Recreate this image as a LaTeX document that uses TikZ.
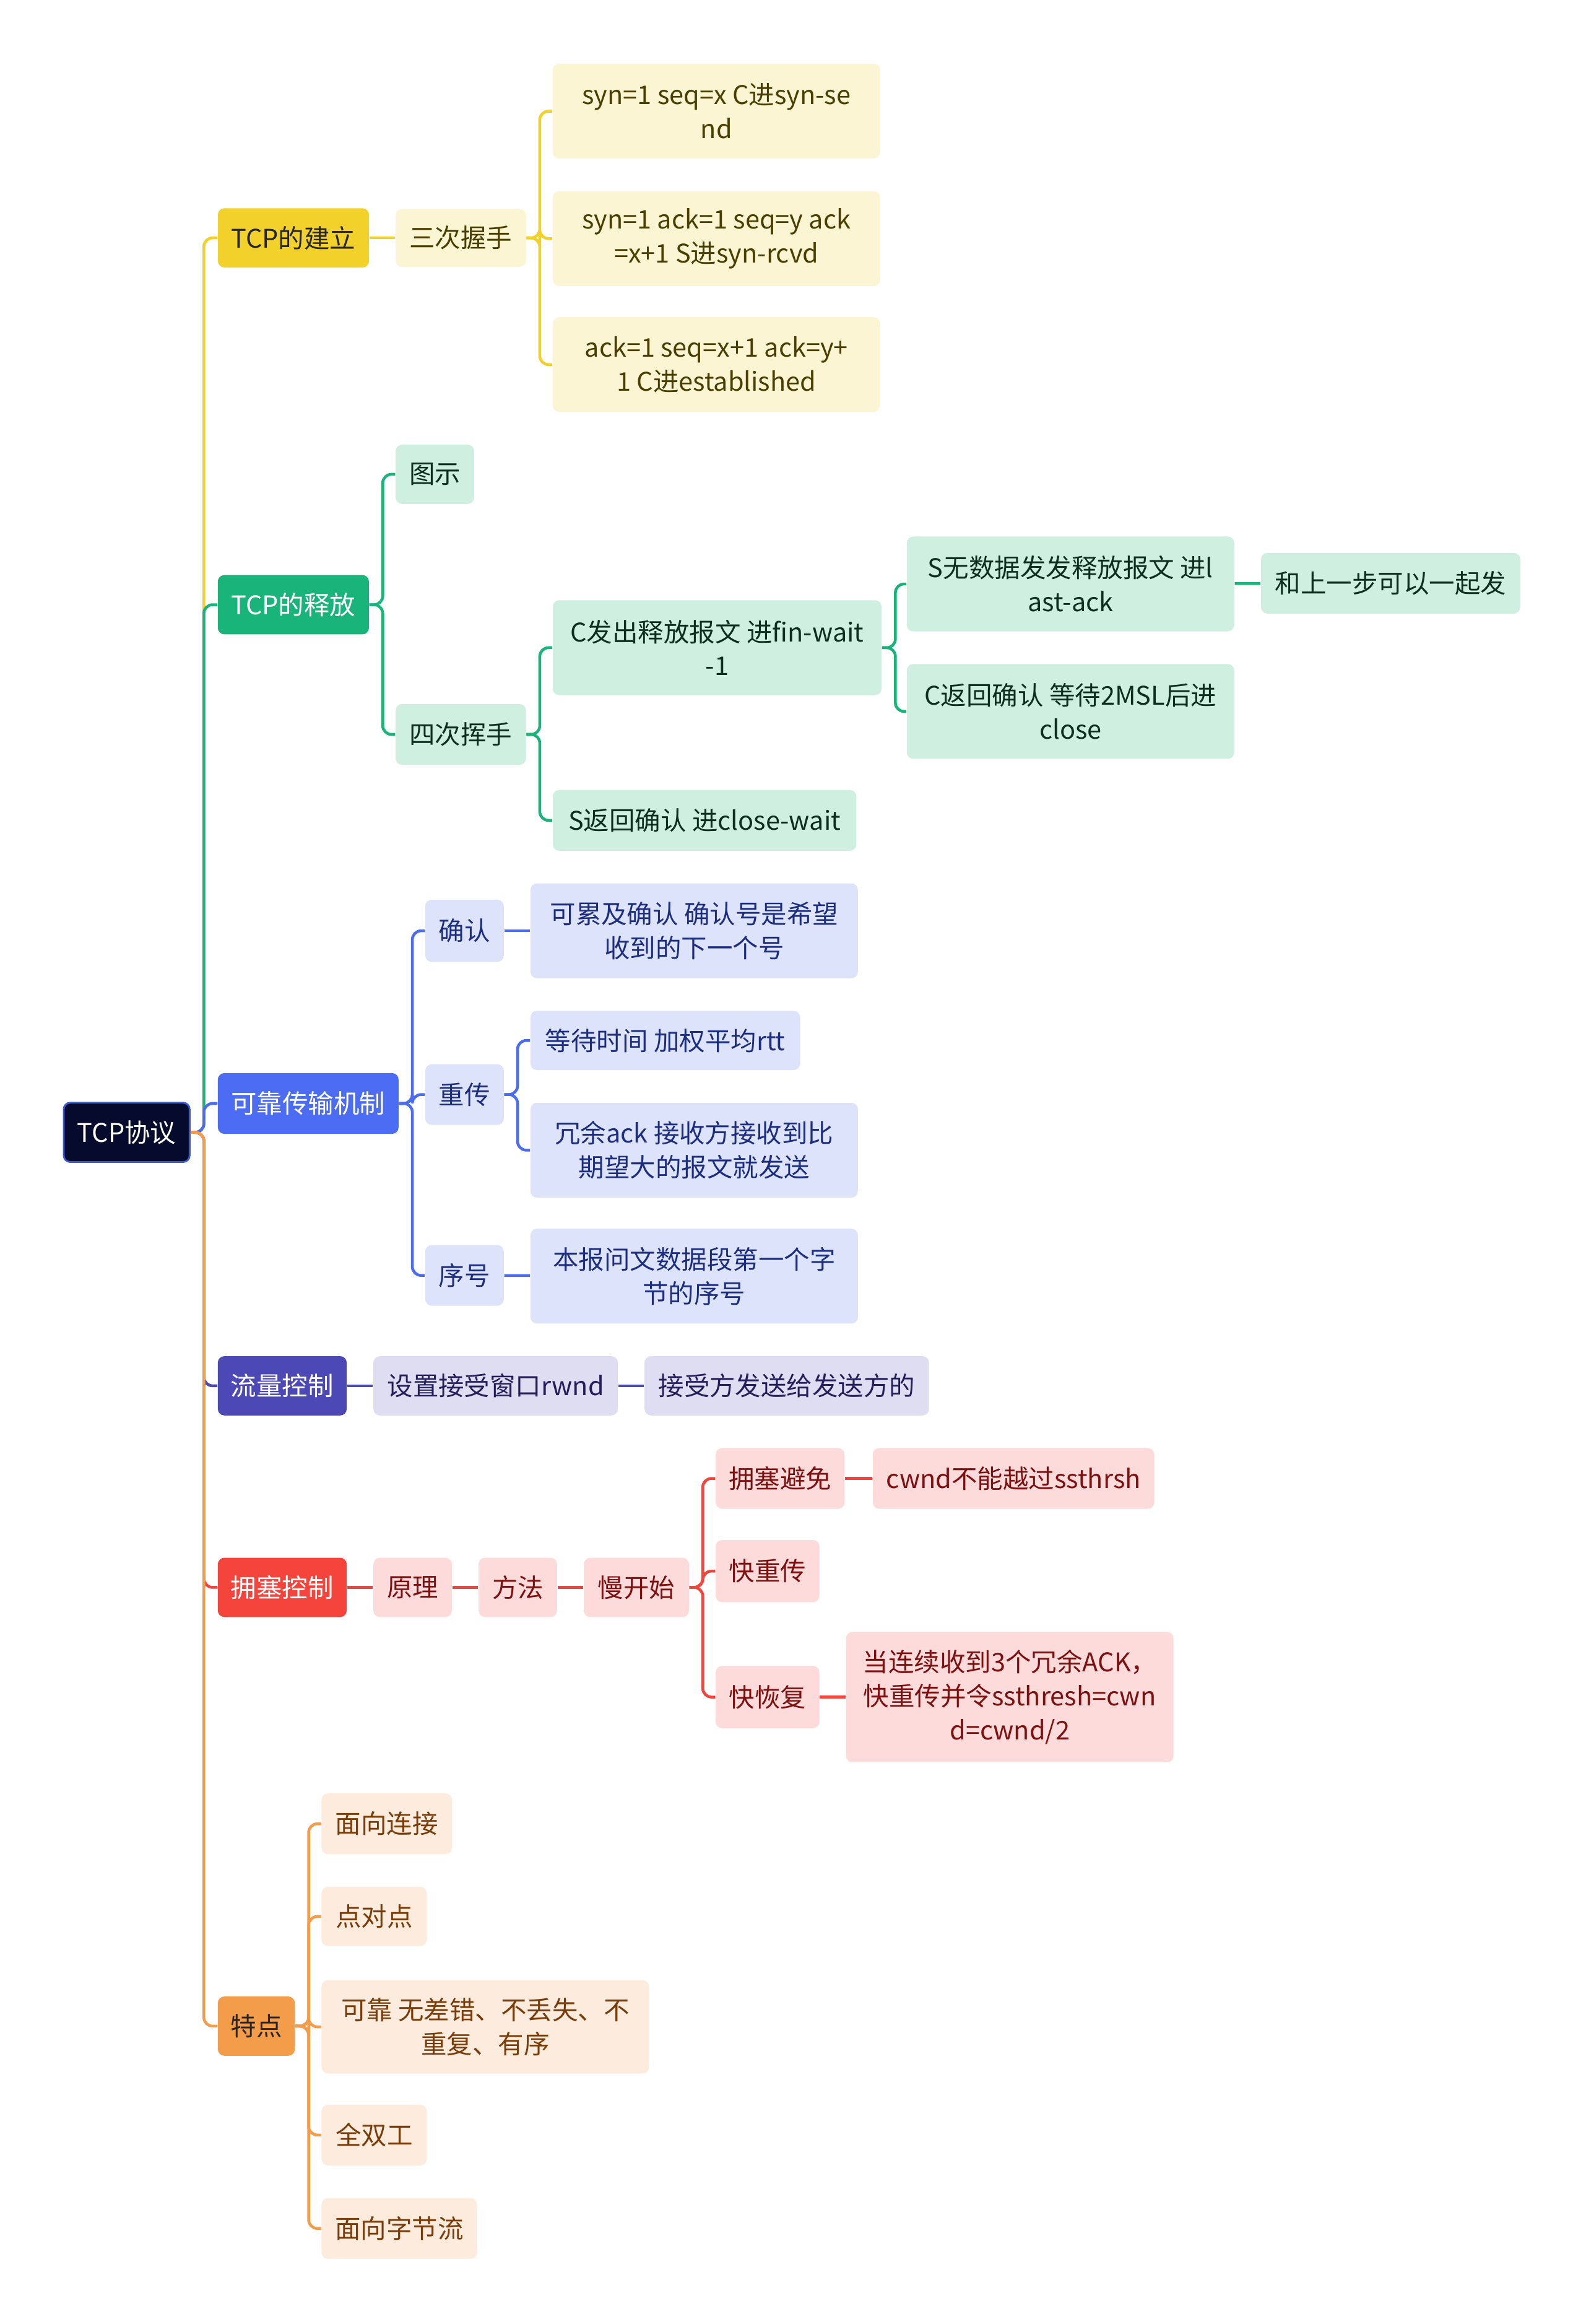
\documentclass[tikz,border=0pt]{standalone}
\usepackage{fontspec}
\setmainfont{Noto Sans CJK SC}
\definecolor{rootfill}{HTML}{060B2E}
\definecolor{rootline}{HTML}{3C5AD0}
\definecolor{ylmain}{HTML}{F2D12B}
\definecolor{yllight}{HTML}{FBF5D3}
\definecolor{yltext}{HTML}{4A3F00}
\definecolor{gnmain}{HTML}{19B47A}
\definecolor{gnlight}{HTML}{CFF0E1}
\definecolor{gntext}{HTML}{0E2E20}
\definecolor{blmain}{HTML}{4C6CF4}
\definecolor{bllight}{HTML}{DDE3FB}
\definecolor{bltext}{HTML}{1D2E80}
\definecolor{inmain}{HTML}{4C48B6}
\definecolor{inlight}{HTML}{DEDDF1}
\definecolor{intext}{HTML}{241F5C}
\definecolor{rdmain}{HTML}{F5443C}
\definecolor{rdlight}{HTML}{FCDBDA}
\definecolor{rdtext}{HTML}{7F1010}
\definecolor{ormain}{HTML}{F39D4B}
\definecolor{orlight}{HTML}{FDECDD}
\definecolor{ortext}{HTML}{7A3D0A}
\tikzset{
  box/.style={rounded corners=3pt,inner sep=0pt,align=center,font=\fontsize{11.8}{15.6}\selectfont},
  bw/.style={minimum width=#1*0.023925cm},
  bh/.style={minimum height=#1*0.023925cm},
  link/.style={line width=1.3pt,rounded corners=4pt},
  rootbox/.style={box,fill=rootfill,draw=rootline,line width=0.8pt,text=white},
  ylhead/.style={box,fill=ylmain,text=black!85},
  ylsub/.style={box,fill=yllight,text=yltext},
  gnhead/.style={box,fill=gnmain,text=white},
  gnsub/.style={box,fill=gnlight,text=gntext},
  blhead/.style={box,fill=blmain,text=white},
  blsub/.style={box,fill=bllight,text=bltext},
  inhead/.style={box,fill=inmain,text=white},
  insub/.style={box,fill=inlight,text=intext},
  rdhead/.style={box,fill=rdmain,text=white},
  rdsub/.style={box,fill=rdlight,text=rdtext},
  orhead/.style={box,fill=ormain,text=black!85},
  orsub/.style={box,fill=orlight,text=ortext}
}
\begin{document}
\begin{tikzpicture}[x=0.023925cm,y=-0.023925cm]
\fill[white] (0,0) rectangle (1070,1568);
\useasboundingbox (0,0) rectangle (1070,1568);

\node[rootbox,bw=85,bh=40] (root) at (85.5,764) {TCP协议};

\node[ylhead,bw=102,bh=40] (jianli) at (198,160.5) {TCP的建立};
\node[gnhead,bw=102,bh=40] (shifang) at (198,408) {TCP的释放};
\node[blhead,bw=122,bh=41] (kekao) at (208,744.5) {可靠传输机制};
\node[inhead,bw=87,bh=40] (liuliang) at (190.5,935) {流量控制};
\node[rdhead,bw=87,bh=40] (yongse) at (190.5,1071) {拥塞控制};
\node[orhead,bw=52,bh=40] (tedian) at (173,1367) {特点};

\node[ylsub,bw=88,bh=39] (sanci) at (311,160.5) {三次握手};
\node[ylsub,bw=221,bh=64] (synA) at (483.5,75) {syn=1 seq=x C进syn-se\\nd};
\node[ylsub,bw=221,bh=64] (synB) at (483.5,161) {syn=1 ack=1 seq=y ack\\=x+1 S进syn-rcvd};
\node[ylsub,bw=221,bh=64] (synC) at (483.5,246) {ack=1 seq=x+1 ack=y+\\1 C进established};

\node[gnsub,bw=53,bh=40] (tushi) at (293.5,320) {图示};
\node[gnsub,bw=88,bh=41] (sici) at (311,495.5) {四次挥手};
\node[gnsub,bw=222,bh=64] (finwait) at (484,437) {C发出释放报文 进fin-wait\\-1};
\node[gnsub,bw=205,bh=41] (closewait) at (475.5,553.5) {S返回确认 进close-wait};
\node[gnsub,bw=221,bh=64] (lastack) at (722.5,394) {S无数据发发释放报文 进l\\ast-ack};
\node[gnsub,bw=221,bh=64] (closed) at (722.5,480) {C返回确认 等待2MSL后进\\close};
\node[gnsub,bw=175,bh=41] (yiqi) at (938.5,393.5) {和上一步可以一起发};

\node[blsub,bw=53,bh=42] (queren) at (313.5,628) {确认};
\node[blsub,bw=53,bh=41] (chongchuan) at (313.5,738.5) {重传};
\node[blsub,bw=53,bh=41] (xuhao) at (313.5,860.5) {序号};
\node[blsub,bw=221,bh=64] (leiji) at (468.5,628) {可累及确认 确认号是希望\\收到的下一个号};
\node[blsub,bw=182,bh=40] (rtt) at (449,702) {等待时间 加权平均rtt};
\node[blsub,bw=221,bh=64] (rongyu) at (468.5,776) {冗余ack 接收方接收到比\\期望大的报文就发送};
\node[blsub,bw=221,bh=64] (benbao) at (468.5,861) {本报问文数据段第一个字\\节的序号};

\node[insub,bw=165,bh=40] (rwnd) at (334.5,935) {设置接受窗口rwnd};
\node[insub,bw=192,bh=40] (fasong) at (531,935) {接受方发送给发送方的};

\node[rdsub,bw=53,bh=40] (yuanli) at (278.5,1071) {原理};
\node[rdsub,bw=53,bh=40] (fangfa) at (349.5,1071) {方法};
\node[rdsub,bw=71,bh=40] (mankaishi) at (429.5,1071) {慢开始};
\node[rdsub,bw=87,bh=41] (bimian) at (526.5,997.5) {拥塞避免};
\node[rdsub,bw=190,bh=41] (cwnd) at (684,997.5) {cwnd不能越过ssthrsh};
\node[rdsub,bw=70,bh=42] (kuaichong) at (518,1060) {快重传};
\node[rdsub,bw=70,bh=42] (kuaihui) at (518,1145) {快恢复};
\node[rdsub,bw=221,bh=88] (ssthresh) at (681.5,1145) {当连续收到3个冗余ACK，\\快重传并令ssthresh=cwn\\d=cwnd/2};

\node[orsub,bw=88,bh=41] (lianjie) at (261,1230.5) {面向连接};
\node[orsub,bw=71,bh=40] (duidian) at (252.5,1293) {点对点};
\node[orsub,bw=221,bh=63] (kekaoo) at (327.5,1367.5) {可靠 无差错、不丢失、不\\重复、有序};
\node[orsub,bw=71,bh=41] (shuanggong) at (252.5,1440.5) {全双工};
\node[orsub,bw=105,bh=41] (zijieliu) at (269.5,1503.5) {面向字节流};

\draw[link,ylmain] (root.east) -- ++(9,0) |- (jianli.west);
\draw[link,gnmain] (root.east) -- ++(9,0) |- (shifang.west);
\draw[link,blmain] (root.east) -- ++(9,0) |- (kekao.west);
\draw[link,inmain] (root.east) -- ++(9,0) |- (liuliang.west);
\draw[link,rdmain] (root.east) -- ++(9,0) |- (yongse.west);
\draw[link,ormain] (root.east) -- ++(9,0) |- (tedian.west);

\draw[link,ylmain] (jianli) -- (sanci);
\draw[link,ylmain] (sanci.east) -- ++(9,0) |- (synA.west);
\draw[link,ylmain] (sanci.east) -- ++(9,0) |- (synB.west);
\draw[link,ylmain] (sanci.east) -- ++(9,0) |- (synC.west);

\draw[link,gnmain] (shifang.east) -- ++(9,0) |- (tushi.west);
\draw[link,gnmain] (shifang.east) -- ++(9,0) |- (sici.west);
\draw[link,gnmain] (sici.east) -- ++(9,0) |- (finwait.west);
\draw[link,gnmain] (sici.east) -- ++(9,0) |- (closewait.west);
\draw[link,gnmain] (finwait.east) -- ++(9,0) |- (lastack.west);
\draw[link,gnmain] (finwait.east) -- ++(9,0) |- (closed.west);
\draw[link,gnmain] (lastack) -- (yiqi);

\draw[link,blmain] (kekao.east) -- ++(9,0) |- (queren.west);
\draw[link,blmain] (kekao.east) -- ++(9,0) |- (chongchuan.west);
\draw[link,blmain] (kekao.east) -- ++(9,0) |- (xuhao.west);
\draw[link,blmain] (queren) -- (leiji);
\draw[link,blmain] (chongchuan.east) -- ++(9,0) |- (rtt.west);
\draw[link,blmain] (chongchuan.east) -- ++(9,0) |- (rongyu.west);
\draw[link,blmain] (xuhao) -- (benbao);

\draw[link,inmain] (liuliang) -- (rwnd);
\draw[link,inmain] (rwnd) -- (fasong);

\draw[link,rdmain] (yongse) -- (yuanli);
\draw[link,rdmain] (yuanli) -- (fangfa);
\draw[link,rdmain] (fangfa) -- (mankaishi);
\draw[link,rdmain] (mankaishi.east) -- ++(9,0) |- (bimian.west);
\draw[link,rdmain] (mankaishi.east) -- ++(9,0) |- (kuaichong.west);
\draw[link,rdmain] (mankaishi.east) -- ++(9,0) |- (kuaihui.west);
\draw[link,rdmain] (bimian) -- (cwnd);
\draw[link,rdmain] (kuaihui) -- (ssthresh);

\draw[link,ormain] (tedian.east) -- ++(9,0) |- (lianjie.west);
\draw[link,ormain] (tedian.east) -- ++(9,0) |- (duidian.west);
\draw[link,ormain] (tedian.east) -- ++(9,0) |- (kekaoo.west);
\draw[link,ormain] (tedian.east) -- ++(9,0) |- (shuanggong.west);
\draw[link,ormain] (tedian.east) -- ++(9,0) |- (zijieliu.west);
\end{tikzpicture}
\end{document}
